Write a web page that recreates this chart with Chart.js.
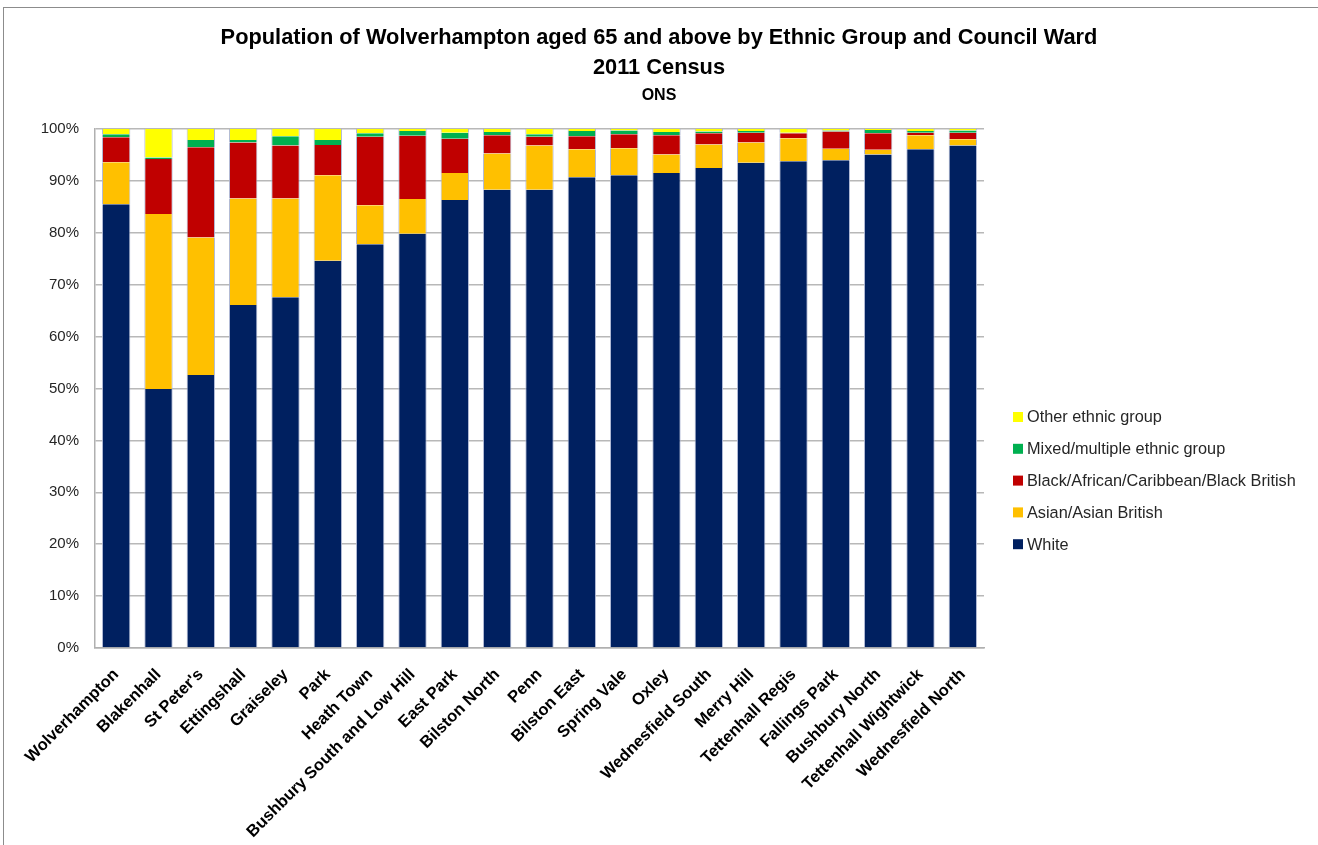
<!DOCTYPE html>
<html>
<head>
<meta charset="utf-8">
<title>Population of Wolverhampton aged 65 and above by Ethnic Group and Council Ward</title>
<script src="https://cdn.jsdelivr.net/npm/chart.js@4/dist/chart.umd.min.js"></script>
<style>
  html, body { margin: 0; padding: 0; background: #ffffff; overflow: hidden; }
  #wrap { position: relative; width: 1318px; height: 845px; }
  #frame { position: absolute; left: 3px; top: 7px; width: 1330px; height: 860px; border: 1px solid #8c8c8c; box-sizing: border-box; pointer-events: none; }
  canvas { position: absolute; left: 0; top: 0; }
</style>
</head>
<body>
<div id="wrap">
  <canvas id="chart" width="1318" height="845"></canvas>
  <div id="frame"></div>
</div>
<script>
// Council wards, ordered by share of White residents aged 65+
const wards = ['Wolverhampton', 'Blakenhall', "St Peter's", 'Ettingshall', 'Graiseley', 'Park', 'Heath Town',
  'Bushbury South and Low Hill', 'East Park', 'Bilston North', 'Penn', 'Bilston East', 'Spring Vale', 'Oxley',
  'Wednesfield South', 'Merry Hill', 'Tettenhall Regis', 'Fallings Park', 'Bushbury North',
  'Tettenhall Wightwick', 'Wednesfield North'];

// Percentage of the 65+ population in each ethnic group
const white = [85.5, 49.9, 52.6, 66.1, 67.6, 74.6, 77.8, 79.8, 86.3, 88.3, 88.3, 90.7, 91.1, 91.5, 92.5, 93.5, 93.8, 94.0, 95.1, 96.1, 96.8];
const asian = [8.1, 33.7, 26.5, 20.5, 19.0, 16.5, 7.5, 6.7, 5.2, 7.0, 8.5, 5.4, 5.2, 3.6, 4.5, 3.9, 4.4, 2.2, 0.9, 2.7, 1.2];
const black = [4.8, 10.6, 17.4, 10.8, 10.2, 5.8, 13.2, 12.2, 6.6, 3.5, 1.7, 2.5, 2.7, 3.7, 2.2, 1.9, 1.0, 3.3, 3.2, 0.5, 1.3];
const mixed = [0.6, 0.3, 1.4, 0.5, 1.8, 1.0, 0.7, 0.9, 1.2, 0.6, 0.5, 1.0, 0.7, 0.6, 0.3, 0.3, 0.1, 0.2, 0.6, 0.3, 0.4];
const other = [1.0, 5.5, 2.1, 2.1, 1.4, 2.1, 0.8, 0.4, 0.7, 0.6, 1.0, 0.4, 0.3, 0.6, 0.5, 0.4, 0.7, 0.3, 0.2, 0.4, 0.3];

const groupNames = ['White', 'Asian/Asian British', 'Black/African/Caribbean/Black British',
  'Mixed/multiple ethnic group', 'Other ethnic group'];
const groupValues = [white, asian, black, mixed, other];
const groupColours = ['#002060', '#FFC000', '#C00000', '#00B050', '#FFFF00'];

const FONT = "'Liberation Sans', Arial, sans-serif";

// Legend drawn beside the plot, listing the groups top-down in stacking order
const sideLegend = {
  id: 'sideLegend',
  afterDraw(chart) {
    const ctx = chart.ctx;
    const sets = chart.data.datasets;
    const x = 1013, top = 417, step = 31.8;
    ctx.save();
    ctx.font = '16.3px ' + FONT;
    ctx.textBaseline = 'middle';
    ctx.textAlign = 'left';
    for (let i = sets.length - 1, row = 0; i >= 0; i--, row++) {
      const y = top + row * step;
      ctx.fillStyle = sets[i].backgroundColor;
      ctx.fillRect(x, y - 5, 10, 10);
      ctx.fillStyle = '#262626';
      ctx.fillText(sets[i].label, x + 14, y + 1);
    }
    ctx.restore();
  }
};

new Chart(document.getElementById('chart'), {
  type: 'bar',
  data: {
    labels: wards,
    datasets: groupNames.map((name, i) => ({
      label: name,
      data: groupValues[i],
      backgroundColor: groupColours[i],
      borderColor: 'rgba(170,180,210,0.9)',
      borderWidth: { left: 1, right: 1, top: 0, bottom: 0 },
      borderSkipped: false,
      categoryPercentage: 1.0,
      barPercentage: 0.67
    }))
  },
  options: {
    responsive: false,
    animation: false,
    devicePixelRatio: 1,
    layout: { padding: 0 },
    plugins: {
      legend: { display: false },
      tooltip: { enabled: false },
      title: {
        display: true,
        text: ['Population of Wolverhampton aged 65 and above by Ethnic Group and Council Ward', '2011 Census'],
        color: '#000000',
        font: { family: FONT, size: 21.8, weight: 'bold', lineHeight: 1.376 },
        padding: { top: 23, bottom: 1 }
      },
      subtitle: {
        display: true,
        text: 'ONS',
        color: '#000000',
        font: { family: FONT, size: 16, weight: 'bold', lineHeight: 1.5 },
        padding: { top: 0, bottom: 21 }
      }
    },
    scales: {
      x: {
        stacked: true,
        afterFit(scale) { scale.height = 197; },
        grid: { display: false, drawTicks: false },
        border: { display: true, color: '#b0b0b0', width: 1.5 },
        ticks: {
          autoSkip: false,
          minRotation: 45,
          maxRotation: 45,
          padding: 17,
          color: '#000000',
          font: { family: FONT, size: 16.5, weight: 'bold' }
        }
      },
      y: {
        stacked: true,
        min: 0,
        max: 100,
        afterFit(scale) { scale.width = 95; },
        grid: { color: '#b8b8b8', lineWidth: 1.5, drawTicks: false },
        border: { display: true, color: '#b0b0b0', width: 1.5 },
        ticks: {
          stepSize: 10,
          padding: 16,
          color: '#262626',
          font: { family: FONT, size: 15 },
          callback: v => v + '%'
        }
      },
      // Blank right-hand strip that keeps room for the legend beside the plot
      legendSpace: {
        type: 'linear',
        position: 'right',
        display: true,
        afterFit(scale) { scale.width = 334; },
        grid: { display: false, drawTicks: false },
        border: { display: false },
        ticks: { display: false }
      }
    }
  },
  plugins: [sideLegend]
});
</script>
</body>
</html>
